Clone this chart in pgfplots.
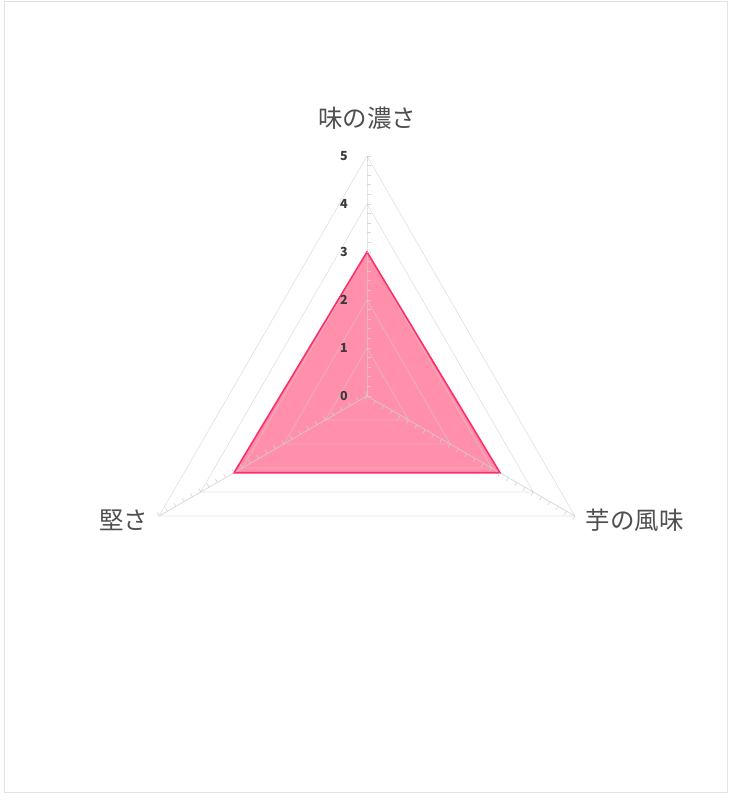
\documentclass[border=0pt]{standalone}
\usepackage{fontspec}
\usepackage{pgfplots}
\pgfplotsset{compat=1.18}
\setmainfont{Noto Sans CJK JP}
\definecolor{gridc}{HTML}{D0D0D0}
\definecolor{fillc}{HTML}{FF8FAB}
\definecolor{linec}{HTML}{FF2D6A}
\definecolor{labc}{HTML}{4F4F4F}
\definecolor{tickc}{HTML}{3A3A3A}
\pgfdeclareplotmark{stub}{%
  \pgfpathmoveto{\pgfpointorigin}%
  \pgfpathlineto{\pgfqpoint{\pgfplotmarksize}{0pt}}%
  \pgfusepathqstroke}
\begin{document}
\begin{tikzpicture}
\useasboundingbox (0,0) rectangle (734pt,800pt);
\draw[color=gray!22, line width=0.8pt] (4pt,8pt) rectangle (727pt,799pt);
\begin{axis}[
  at={(367pt,404pt)}, anchor=origin,
  x=48pt, y=48pt,
  xmin=-5, xmax=5, ymin=-3, ymax=5.5,
  hide axis, clip=false,
  data cs=polar,
]
% filled area
\addplot[draw=none, fill=fillc] coordinates {(90,3) (210,3.2) (330,3.2)} --cycle;

% grid triangles
\addplot[gridc, opacity=0.6, line width=0.7pt] coordinates {(90,1) (210,1) (330,1) (90,1)};
\addplot[gridc, opacity=0.6, line width=0.7pt] coordinates {(90,2) (210,2) (330,2) (90,2)};
\addplot[gridc, opacity=0.6, line width=0.7pt] coordinates {(90,3) (210,3) (330,3) (90,3)};
\addplot[gridc, opacity=0.6, line width=0.7pt] coordinates {(90,4) (210,4) (330,4) (90,4)};
\addplot[gridc, opacity=0.6, line width=0.7pt] coordinates {(90,5) (210,5) (330,5) (90,5)};

% spokes with minor ticks
\addplot[gridc, opacity=0.85, line width=0.7pt, mark=stub, mark size=4pt,
  mark options={solid, rotate=0}] coordinates {
  (90,0) (90,0.2) (90,0.4) (90,0.6) (90,0.8) (90,1) (90,1.2) (90,1.4) (90,1.6) (90,1.8)
  (90,2) (90,2.2) (90,2.4) (90,2.6) (90,2.8) (90,3) (90,3.2) (90,3.4) (90,3.6) (90,3.8)
  (90,4) (90,4.2) (90,4.4) (90,4.6) (90,4.8) (90,5)};
\addplot[gridc, opacity=0.85, line width=0.7pt, mark=stub, mark size=4pt,
  mark options={solid, rotate=120}] coordinates {
  (210,0) (210,0.2) (210,0.4) (210,0.6) (210,0.8) (210,1) (210,1.2) (210,1.4) (210,1.6) (210,1.8)
  (210,2) (210,2.2) (210,2.4) (210,2.6) (210,2.8) (210,3) (210,3.2) (210,3.4) (210,3.6) (210,3.8)
  (210,4) (210,4.2) (210,4.4) (210,4.6) (210,4.8) (210,5)};
\addplot[gridc, opacity=0.85, line width=0.7pt, mark=stub, mark size=4pt,
  mark options={solid, rotate=-120}] coordinates {
  (330,0) (330,0.2) (330,0.4) (330,0.6) (330,0.8) (330,1) (330,1.2) (330,1.4) (330,1.6) (330,1.8)
  (330,2) (330,2.2) (330,2.4) (330,2.6) (330,2.8) (330,3) (330,3.2) (330,3.4) (330,3.6) (330,3.8)
  (330,4) (330,4.2) (330,4.4) (330,4.6) (330,4.8) (330,5)};

% outline
\addplot[linec, line width=1.6pt, line join=miter] coordinates {(90,3) (210,3.2) (330,3.2)} --cycle;

% scale labels
\node[anchor=east, font=\fontsize{12.5}{14}\selectfont\bfseries, text=tickc] at (axis cs:-0.33,0) {0};
\node[anchor=east, font=\fontsize{12.5}{14}\selectfont\bfseries, text=tickc] at (axis cs:-0.33,1) {1};
\node[anchor=east, font=\fontsize{12.5}{14}\selectfont\bfseries, text=tickc] at (axis cs:-0.33,2) {2};
\node[anchor=east, font=\fontsize{12.5}{14}\selectfont\bfseries, text=tickc] at (axis cs:-0.33,3) {3};
\node[anchor=east, font=\fontsize{12.5}{14}\selectfont\bfseries, text=tickc] at (axis cs:-0.33,4) {4};
\node[anchor=east, font=\fontsize{12.5}{14}\selectfont\bfseries, text=tickc] at (axis cs:-0.33,5) {5};
% category labels
\node[font=\fontsize{24.5}{28}\selectfont, text=labc] at (axis cs:0,5.79) {味の濃さ};
\node[anchor=west, font=\fontsize{24.5}{28}\selectfont, text=labc] at (axis cs:4.48,-2.58) {芋の風味};
\node[anchor=east, font=\fontsize{24.5}{28}\selectfont, text=labc] at (axis cs:-4.48,-2.58) {堅さ};
\end{axis}
\end{tikzpicture}
\end{document}
